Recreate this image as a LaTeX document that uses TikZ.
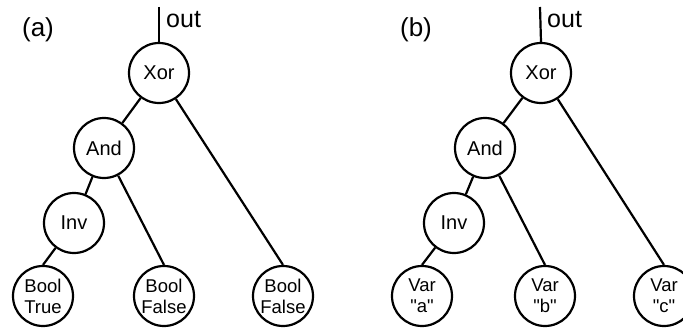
\documentclass[tikz,border=0pt]{standalone}
\usepackage{fontspec}
\setmainfont{Liberation Sans}
\begin{document}
\begin{tikzpicture}[x=1pt,y=-1pt,
  gate/.style={circle,draw,line width=2.2pt,minimum size=60pt,inner sep=0pt,font=\fontsize{20}{22}\selectfont},
  leaf/.style={circle,draw,line width=2.2pt,minimum size=60pt,inner sep=0pt,align=center,font=\fontsize{18.5}{21}\selectfont},
  wire/.style={line width=2.2pt},
  panel/.style={font=\fontsize{26}{28}\selectfont,inner sep=0pt},
  outlbl/.style={font=\fontsize{25}{27}\selectfont,inner sep=0pt,anchor=base west}]
\useasboundingbox (0,0) rectangle (683,329);
\clip (0,0) rectangle (683,329);

% ---- panel (a): constant Boolean inputs ----
\node[panel] (la) at (38,30) {(a)};
\node[gate] (xa) at (159,73) {Xor};
\node[gate] (aa) at (104,148) {And};
\node[gate] (ia) at (74,223) {Inv};
\node[leaf] (ba1) at (43,296) {Bool\\True};
\node[leaf] (ba2) at (164,296) {Bool\\False};
\node[leaf] (ba3) at (283,296) {Bool\\False};
\coordinate (oa) at (159,7);
\node[outlbl] (ta) at (166,28) {out};
\draw[wire] (oa) -- (xa.north);
\draw[wire] (xa) -- (aa);
\draw[wire] (xa) -- (ba3.north);
\draw[wire] (aa) -- (ia);
\draw[wire] (aa) -- (ba2.north);
\draw[wire] (ia) -- (ba1.north);

% ---- panel (b): variable inputs ----
\node[panel] (lb) at (416,30) {(b)};
\node[gate] (xb) at (541,73) {Xor};
\node[gate] (ab) at (485,148) {And};
\node[gate] (ib) at (454,223) {Inv};
\node[leaf] (vb1) at (422,296) {Var\\\textquotedbl a\textquotedbl};
\node[leaf] (vb2) at (545,296) {Var\\\textquotedbl b\textquotedbl};
\node[leaf] (vb3) at (664,296) {Var\\\textquotedbl c\textquotedbl};
\coordinate (ob) at (540,7);
\node[outlbl] (tb) at (547,28) {out};
\draw[wire] (ob) -- (xb.north);
\draw[wire] (xb) -- (ab);
\draw[wire] (xb) -- (vb3.north);
\draw[wire] (ab) -- (ib);
\draw[wire] (ab) -- (vb2.north);
\draw[wire] (ib) -- (vb1.north);
\end{tikzpicture}
\end{document}
